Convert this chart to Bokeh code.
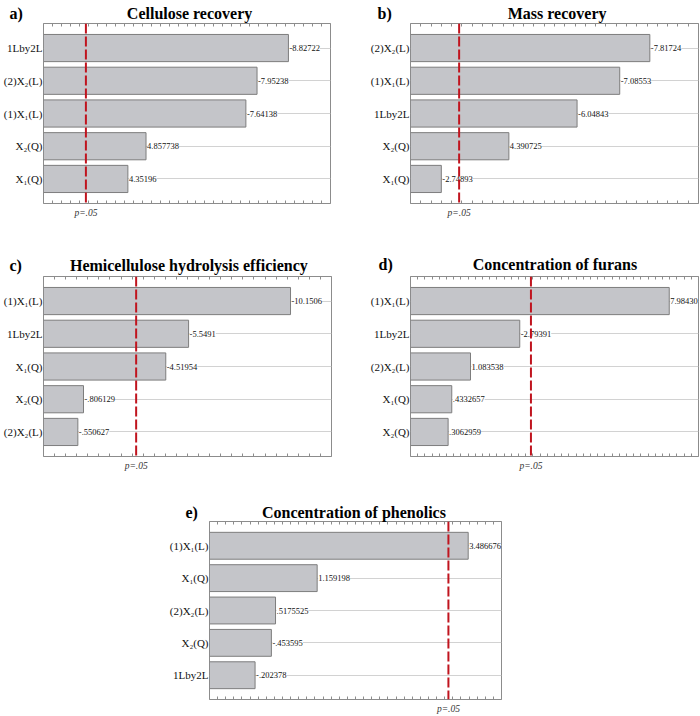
import numpy as np
from bokeh.plotting import figure
from bokeh.models import (FactorRange, Range1d, Span, LabelSet, ColumnDataSource,
                          FixedTicker, LinearAxis, Spacer)
from bokeh.layouts import column, row
from bokeh.embed import file_html
from bokeh.resources import INLINE

# critical t-value drawn as the p = .05 reference line
P_CRIT = 3.182
P_LABEL = "p=.05"

# a) Cellulose recovery
a_terms = ["1Lby2L", "(2)X₂(L)", "(1)X₁(L)", "X₂(Q)", "X₁(Q)"]
a_values = [-8.82722, -7.95238, -7.64138, 4.857738, 4.35196]
a_labels = ["-8.82722", "-7.95238", "-7.64138", "4.857738", "4.35196"]

# b) Mass recovery
b_terms = ["(2)X₂(L)", "(1)X₁(L)", "1Lby2L", "X₂(Q)", "X₁(Q)"]
b_values = [-7.81724, -7.08553, -6.04843, 4.390725, -2.74893]
b_labels = ["-7.81724", "-7.08553", "-6.04843", "4.390725", "-2.74893"]

# c) Hemicellulose hydrolysis efficiency
c_terms = ["(1)X₁(L)", "1Lby2L", "X₁(Q)", "X₂(Q)", "(2)X₂(L)"]
c_values = [-10.1506, -5.5491, -4.51954, -0.806129, -0.550627]
c_labels = ["-10.1506", "-5.5491", "-4.51954", "-.806129", "-.550627"]

# d) Concentration of furans
d_terms = ["(1)X₁(L)", "1Lby2L", "(2)X₂(L)", "X₁(Q)", "X₂(Q)"]
d_values = [7.98430, -2.79391, 1.083538, 0.4332657, 0.3062959]
d_labels = ["7.98430", "-2.79391", "1.083538", ".4332657", ".3062959"]

# e) Concentration of phenolics
e_terms = ["(1)X₁(L)", "X₁(Q)", "(2)X₂(L)", "X₂(Q)", "1Lby2L"]
e_values = [3.486676, 1.159198, 0.5175525, -0.453595, -0.202378]
e_labels = ["3.486676", "1.159198", ".5175525", "-.453595", "-.202378"]

SERIF = "Liberation Serif"
BAR_FILL = "#c4c5c9"
BAR_LINE = "#7d7d7d"
FRAME = "#8c8c8c"
GRID = "#d2d2d2"
PLINE = "#c0141e"
NBSP = "\u00a0"


def panel(title, letter, gap, terms, values, labels, x_span, tick_step,
          width, height, borders, letter_x, title_standoff):
    left_b, right_b, top_b, bottom_b = borders
    p = figure(width=width, height=height, output_backend="svg", toolbar_location=None,
               x_range=Range1d(*x_span),
               y_range=FactorRange(factors=list(reversed(terms)), range_padding=0.25,
                                   range_padding_units="absolute"),
               x_axis_location=None, min_border_left=left_b, min_border_right=right_b,
               min_border_top=top_b, min_border_bottom=bottom_b)
    p.background_fill_color = "white"
    p.border_fill_color = "white"
    p.outline_line_color = FRAME
    p.outline_line_width = 1

    # panel letter and chart title share one title line
    p.title.text = letter + NBSP * gap + title
    p.title.align = "left"
    p.title.offset = letter_x - left_b
    p.title.text_font = SERIF
    p.title.text_font_style = "bold"
    p.title.text_font_size = "16px"
    p.title.text_color = "black"
    p.title.standoff = title_standoff

    src = ColumnDataSource(dict(term=terms, value=values,
                                length=[abs(v) for v in values], label=labels))
    p.hbar(y="term", left=x_span[0], right="length", height=0.83, source=src,
           fill_color=BAR_FILL, line_color=BAR_LINE, line_width=1)

    p.add_layout(LabelSet(x="length", y="term", text="label", source=src, x_offset=1,
                          text_baseline="middle", text_font=SERIF, text_font_size="8.5px",
                          text_color="#111111", background_fill_color="white"))
    p.add_layout(Span(location=P_CRIT, dimension="height", line_color=PLINE,
                      line_width=2, line_dash="10 3"))

    minor = list(np.arange(x_span[0], x_span[1] + tick_step / 2, tick_step))
    bottom = LinearAxis(ticker=FixedTicker(ticks=[P_CRIT], minor_ticks=minor),
                        major_label_overrides={P_CRIT: P_LABEL},
                        major_label_text_font=SERIF, major_label_text_font_style="italic",
                        major_label_text_font_size="9.5px", major_label_text_color="#333333",
                        major_label_standoff=4, major_tick_in=0, major_tick_out=0,
                        minor_tick_in=3, minor_tick_out=0, minor_tick_line_color=FRAME,
                        axis_line_color=None)
    p.add_layout(bottom, "below")
    top = LinearAxis(ticker=FixedTicker(ticks=[], minor_ticks=minor),
                     major_label_text_font_size="0px", major_label_standoff=0,
                     major_tick_in=0, major_tick_out=0,
                     minor_tick_in=3, minor_tick_out=0, minor_tick_line_color=FRAME,
                     axis_line_color=None)
    p.add_layout(top, "above")

    ax = p.yaxis[0]
    ax.major_label_text_font = SERIF
    ax.major_label_text_font_size = "11px"
    ax.major_label_text_color = "#111111"
    ax.major_label_standoff = 1
    ax.major_tick_in = 0
    ax.major_tick_out = 0
    ax.axis_line_color = None

    p.xgrid.visible = False
    p.ygrid.grid_line_color = GRID
    p.ygrid.grid_line_width = 1.2
    return p


pa = panel("Cellulose recovery", "a)", 26, a_terms, a_values, a_labels, (2, 10), 0.25,
           350, 240, (41, 20, 22, 37), 7, 4)
pb = panel("Mass recovery", "b)", 29, b_terms, b_values, b_labels, (2, 9), 0.25,
           350, 240, (60, 2, 23, 34), 27, 4)
pc = panel("Hemicellulose hydrolysis efficiency", "c)", 12, c_terms, c_values, c_labels,
           (-1, 12), 0.5, 350, 240, (41, 19, 34, 24), 7, 6)
pd = panel("Concentration of furans", "d)", 20, d_terms, d_values, d_labels, (-1, 9), 0.25,
           350, 240, (60, 2, 36, 23), 28, 7)
pe = panel("Concentration of phenolics", "e)", 16, e_terms, e_values, e_labels, (-0.5, 4),
           0.125, 380, 236, (49, 39, 41, 15), 25, 1)

layout = column(row(pa, pb), row(pc, pd), row(Spacer(width=160, height=236), pe))

open("out.html", "w").write(file_html(layout, INLINE))
